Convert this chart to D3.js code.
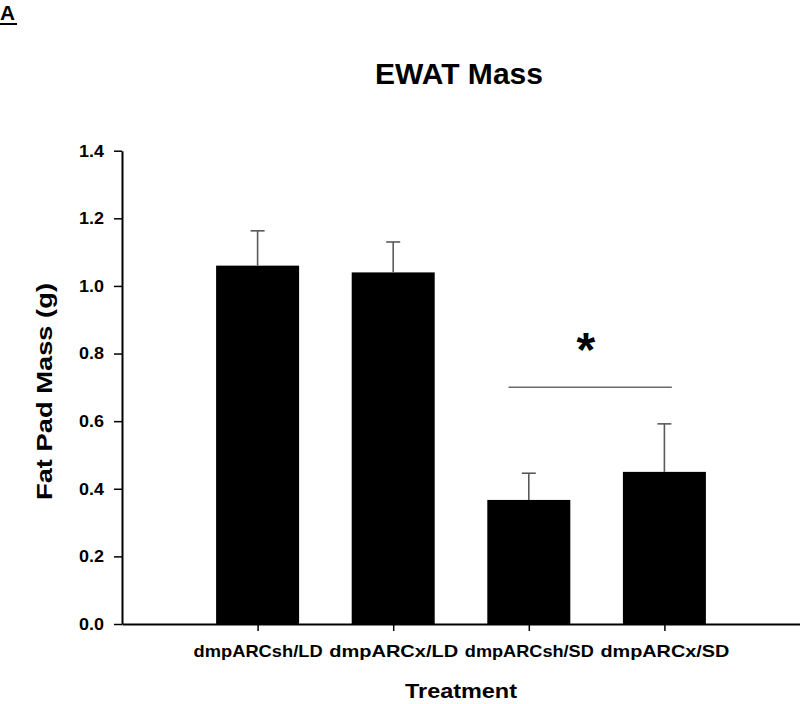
<!DOCTYPE html>
<html>
<head>
<meta charset="utf-8">
<script src="https://cdn.jsdelivr.net/npm/d3@7/dist/d3.min.js"></script>
<style>
  html, body { margin: 0; padding: 0; background: #fff; }
  svg { display: block; }
  text { font-family: "Liberation Sans", Arial, sans-serif; font-weight: bold; fill: #000; }
</style>
</head>
<body>
<svg id="chart" width="800" height="704"></svg>
<script>
// ---- data ----
const categories = ["dmpARCsh/LD", "dmpARCx/LD", "dmpARCsh/SD", "dmpARCx/SD"];
const means = [1.06, 1.04, 0.367, 0.45];
const sems = [0.103, 0.09, 0.079, 0.142];
const yTicks = [0.0, 0.2, 0.4, 0.6, 0.8, 1.0, 1.2, 1.4];
const title = "EWAT Mass";
const xTitle = "Treatment";
const yTitle = "Fat Pad Mass (g)";
const panelLabel = "A";
const sigLevel = 0.70;       // significance bracket value
const sigFrom = 2.85, sigTo = 4.055, sigStarAt = 3.42; // positions on category index scale

// ---- layout ----
const svg = d3.select("#chart");
const x = d3.scaleLinear().domain([0, categories.length + 1]).range([122, 800]);
const y = d3.scaleLinear().domain([0, 1.4]).range([624, 150.7]);
const barW = 83;

// panel label
svg.append("text").attr("x", 0).attr("y", 19.5).attr("font-size", 20)
  .attr("textLength", 15).attr("lengthAdjust", "spacingAndGlyphs").text(panelLabel);
svg.append("line").attr("x1", 0).attr("x2", 17).attr("y1", 24).attr("y2", 24)
  .attr("stroke", "#000").attr("stroke-width", 2);

// title
svg.append("text").attr("x", 459).attr("y", 84).attr("text-anchor", "middle")
  .attr("font-size", 29).attr("textLength", 168).attr("lengthAdjust", "spacingAndGlyphs").text(title);

// bars
const data = categories.map((c, i) => ({ c, i: i + 1, m: means[i], e: sems[i] }));
svg.append("g").selectAll("rect").data(data).join("rect")
  .attr("x", d => x(d.i) - barW / 2)
  .attr("width", barW)
  .attr("y", d => y(d.m))
  .attr("height", d => y(0) - y(d.m))
  .attr("fill", "#000");

// error bars (upper only)
const eg = svg.append("g").attr("stroke", "#5a5a5a").attr("stroke-width", 1.6);
eg.selectAll("line.v").data(data).join("line").attr("class", "v")
  .attr("x1", d => x(d.i)).attr("x2", d => x(d.i))
  .attr("y1", d => y(d.m)).attr("y2", d => y(d.m + d.e));
eg.selectAll("line.c").data(data).join("line").attr("class", "c")
  .attr("x1", d => x(d.i) - 7).attr("x2", d => x(d.i) + 7)
  .attr("y1", d => y(d.m + d.e)).attr("y2", d => y(d.m + d.e));

// significance
svg.append("line").attr("x1", x(sigFrom)).attr("x2", x(sigTo))
  .attr("y1", y(sigLevel)).attr("y2", y(sigLevel))
  .attr("stroke", "#6a6a6a").attr("stroke-width", 1.5);
svg.append("text").attr("x", x(sigStarAt)).attr("y", 366).attr("text-anchor", "middle")
  .attr("font-size", 48).text("*");

// y axis
const yAxis = svg.append("g").attr("transform", "translate(122,0)")
  .call(d3.axisLeft(y).tickValues(yTicks).tickFormat(d3.format(".1f")).tickSize(8).tickSizeOuter(0).tickPadding(10));
yAxis.selectAll("text").attr("font-size", 17).attr("font-family", null).style("font-weight", "bold")
  .attr("textLength", 25).attr("lengthAdjust", "spacingAndGlyphs");

// x axis
const xAxis = svg.append("g").attr("transform", "translate(0,624)")
  .call(d3.axisBottom(x).tickValues(data.map(d => d.i)).tickFormat((d) => categories[d - 1]).tickSize(7).tickSizeOuter(0));
xAxis.selectAll("text").attr("font-size", 17).attr("font-family", null).style("font-weight", "bold")
  .attr("y", 32.7).attr("dy", 0)
  .attr("textLength", 129).attr("lengthAdjust", "spacingAndGlyphs");

[yAxis, xAxis].forEach(a => {
  a.select(".domain").attr("stroke", "#000").attr("stroke-width", 2);
  a.selectAll(".tick line").attr("stroke", "#000").attr("stroke-width", 1.5);
});

// axis titles
svg.append("text").attr("x", 461).attr("y", 698).attr("text-anchor", "middle")
  .attr("font-size", 21).attr("textLength", 112).attr("lengthAdjust", "spacingAndGlyphs").text(xTitle);
svg.append("text").attr("transform", "translate(51.5,391.5) rotate(-90)").attr("text-anchor", "middle")
  .attr("font-size", 22).attr("textLength", 217).attr("lengthAdjust", "spacingAndGlyphs").text(yTitle);
</script>
</body>
</html>
